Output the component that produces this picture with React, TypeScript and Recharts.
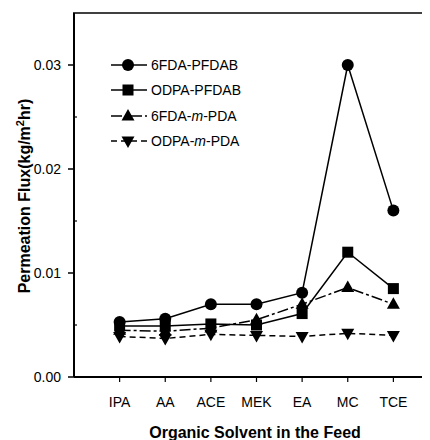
import React from 'react';
import { LineChart, Line, XAxis, YAxis } from 'recharts';

const categories = ['IPA', 'AA', 'ACE', 'MEK', 'EA', 'MC', 'TCE'];
const fdaPfdab = [0.0053, 0.0056, 0.007, 0.007, 0.0081, 0.03, 0.016];
const odpaPfdab = [0.0049, 0.0049, 0.0051, 0.005, 0.0061, 0.012, 0.0085];
const fdaMpda = [0.0045, 0.0044, 0.0047, 0.0055, 0.007, 0.0086, 0.007];
const odpaMpda = [0.0039, 0.0037, 0.0041, 0.004, 0.0039, 0.0042, 0.004];

const yTicks = [0, 0.005, 0.01, 0.015, 0.02, 0.025, 0.03];
const xTicks = [1, 2, 3, 4, 5, 6, 7];
const yMax = 0.035;

const FONT = '"Liberation Sans", Arial, sans-serif';

// plot box inside the chart svg
const PLOT_LEFT = 66;
const PLOT_TOP = 5;

const data = categories.map((name, i) => ({
  x: i + 1,
  name,
  s1: fdaPfdab[i],
  s2: odpaPfdab[i],
  s3: fdaMpda[i],
  s4: odpaMpda[i],
}));

type Shape = 'circle' | 'square' | 'up' | 'down';

const Marker = ({ cx, cy, shape }: { cx: number; cy: number; shape: Shape }) => {
  if (cx == null || cy == null) return null;
  if (shape === 'circle') return <circle cx={cx} cy={cy} r={6} fill="#000" />;
  if (shape === 'square') return <rect x={cx - 5.5} y={cy - 5.5} width={11} height={11} fill="#000" />;
  if (shape === 'up')
    return <polygon points={`${cx},${cy - 7} ${cx + 6.5},${cy + 4.5} ${cx - 6.5},${cy + 4.5}`} fill="#000" />;
  return <polygon points={`${cx},${cy + 7} ${cx + 6.5},${cy - 4.5} ${cx - 6.5},${cy - 4.5}`} fill="#000" />;
};

const series = [
  { key: 's4', shape: 'down' as Shape, dash: '6 4' },
  { key: 's3', shape: 'up' as Shape, dash: '11 3 3 3' },
  { key: 's2', shape: 'square' as Shape, dash: undefined },
  { key: 's1', shape: 'circle' as Shape, dash: undefined },
];

const YTick = (props: any) => {
  const { x, y, payload } = props;
  const v = payload.value;
  const major = Math.abs(v * 100 - Math.round(v * 100)) < 1e-6;
  return (
    <g>
      {major ? (
        <line x1={x - 6} x2={x} y1={y} y2={y} stroke="#000" strokeWidth={1.5} />
      ) : (
        <line x1={x} x2={x + 3} y1={y} y2={y} stroke="#000" strokeWidth={1.2} />
      )}
      {major && (
        <text x={x - 13} y={y} dy="0.35em" textAnchor="end" fontSize={14} fontFamily={FONT} fill="#000">
          {v.toFixed(2)}
        </text>
      )}
    </g>
  );
};

const XTick = (props: any) => {
  const { x, y, payload } = props;
  return (
    <g>
      <line x1={x} x2={x} y1={y} y2={y + 5} stroke="#000" strokeWidth={1.2} />
      <text x={x} y={y + 30} textAnchor="middle" fontSize={14} fontFamily={FONT} fill="#000">
        {categories[payload.value - 1]}
      </text>
    </g>
  );
};

const YLabel = (props: any) => {
  const vb = props.viewBox || { x: 0, y: 5, width: 66, height: 364 };
  const cx = vb.x + 22;
  const cy = vb.y + vb.height / 2 + 1;
  return (
    <text
      x={cx}
      y={cy}
      transform={`rotate(-90 ${cx} ${cy})`}
      textAnchor="middle"
      fontSize={16}
      fontWeight="bold"
      fontFamily={FONT}
      fill="#000"
    >
      Permeation Flux(kg/m
      <tspan dy={-6} fontSize={11}>2</tspan>
      <tspan dy={6}>hr)</tspan>
    </text>
  );
};

const XLabel = (props: any) => {
  const vb = props.viewBox || { x: 66, y: 369, width: 365, height: 63 };
  return (
    <text x={255 - 8} y={vb.y + 61} textAnchor="middle" fontSize={16} fontWeight="bold" fontFamily={FONT} fill="#000">
      Organic Solvent in the Feed
    </text>
  );
};

const legendRows = [
  { shape: 'circle' as Shape, dash: undefined, label: ['6FDA-PFDAB'] },
  { shape: 'square' as Shape, dash: undefined, label: ['ODPA-PFDAB'] },
  { shape: 'up' as Shape, dash: '11 3 3 3', label: ['6FDA-', 'm', '-PDA'] },
  { shape: 'down' as Shape, dash: '6 4', label: ['ODPA-', 'm', '-PDA'] },
];

const App = () => {
  return (
    <div style={{ position: 'relative', width: 422, height: 432, overflow: 'hidden' }}>
      <LineChart width={441} height={432} data={data} margin={{ top: PLOT_TOP, right: 10, left: 0, bottom: 0 }}>
        <XAxis
          dataKey="x"
          type="number"
          domain={[0, 8]}
          ticks={xTicks}
          interval={0}
          height={63}
          tickSize={0}
          tickMargin={0}
          tickLine={false}
          axisLine={{ stroke: '#000', strokeWidth: 2 }}
          tick={<XTick />}
          label={<XLabel />}
        />
        <YAxis
          type="number"
          domain={[0, yMax]}
          ticks={yTicks}
          interval={0}
          width={PLOT_LEFT}
          tickSize={0}
          tickMargin={0}
          tickLine={false}
          axisLine={{ stroke: '#000', strokeWidth: 2 }}
          tick={<YTick />}
          label={<YLabel />}
        />
        {series.map((s) => (
          <Line
            key={s.key}
            dataKey={s.key}
            type="linear"
            stroke="#000"
            strokeWidth={1.5}
            strokeDasharray={s.dash}
            isAnimationActive={false}
            dot={(p: any) => <Marker key={`${s.key}-${p.index}`} cx={p.cx} cy={p.cy} shape={s.shape} />}
            activeDot={false}
          />
        ))}
      </LineChart>
      <svg
        width={422}
        height={432}
        style={{ position: 'absolute', left: 0, top: 0, pointerEvents: 'none' }}
      >
        {/* top frame of the plot box */}
        <line x1={PLOT_LEFT - 1} x2={422} y1={PLOT_TOP} y2={PLOT_TOP} stroke="#000" strokeWidth={1.6} />
        {legendRows.map((r, i) => {
          const y = [65, 90, 116, 141][i] - 8;
          return (
            <g key={i}>
              <line x1={103} x2={139} y1={y} y2={y} stroke="#000" strokeWidth={1.5} strokeDasharray={r.dash} />
              <Marker cx={120} cy={y} shape={r.shape} />
              <text x={143} y={y} dy="0.35em" fontSize={14} fontFamily={FONT} fill="#000">
                {r.label.map((t, j) => (
                  <tspan key={j} fontStyle={t === 'm' ? 'italic' : 'normal'}>
                    {t}
                  </tspan>
                ))}
              </text>
            </g>
          );
        })}
      </svg>
    </div>
  );
};

export default App;
